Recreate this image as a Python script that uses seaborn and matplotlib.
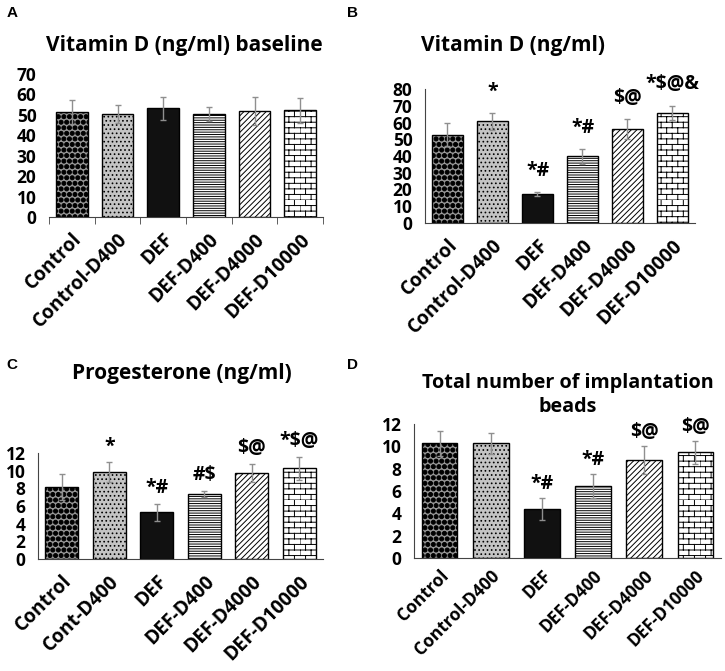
import numpy as np
import pandas as pd
import matplotlib
matplotlib.use('Agg')
import matplotlib.pyplot as plt
import matplotlib.hatch as mhatch
from matplotlib.path import Path
import seaborn as sns
import warnings

warnings.filterwarnings('ignore')

# --- DATA ---
GROUPS_A = ['Control', 'Control-D400', 'DEF', 'DEF-D400', 'DEF-D4000', 'DEF-D10000']
GROUPS_C = ['Control', 'Cont-D400', 'DEF', 'DEF-D400', 'DEF-D4000', 'DEF-D10000']

vitd_base_mean = [51.4, 50.4, 53.2, 50.4, 51.9, 52.2]
vitd_base_err = [5.9, 4.4, 5.7, 3.6, 7.0, 6.2]

vitd_mean = [52.7, 60.7, 17.3, 39.8, 56.3, 65.7]
vitd_err = [7.0, 5.0, 1.0, 4.4, 6.0, 4.4]
vitd_sig = ['', '*', '*#', '*#', '$@', '*$@&']

prog_mean = [8.15, 9.85, 5.28, 7.36, 9.74, 10.3]
prog_err = [1.5, 1.13, 0.95, 0.38, 1.06, 1.3]
prog_sig = ['', '*', '*#', '#$', '$@', '*$@']

beads_mean = [10.27, 10.27, 4.38, 6.46, 8.78, 9.46]
beads_err = [1.13, 0.95, 1.0, 1.07, 1.25, 1.04]
beads_sig = ['', '', '*#', '*#', '$@', '$@']


# --- extra hatch patterns: big dots ('c') and bricks ('b') ---
class BigDots(mhatch.Circles):
    size = 0.36
    filled = True

    def __init__(self, hatch, density):
        self.num_rows = hatch.count('c') * density
        super().__init__(hatch, density)


class Bricks(mhatch.HatchPatternBase):
    def __init__(self, hatch, density):
        self.num_rows = hatch.count('b') * density
        self.num_cols = self.num_rows // 2
        self.num_vertices = self.num_rows * (2 + 2 * self.num_cols)

    def set_vertices_and_codes(self, vertices, codes):
        verts = []
        for i in range(self.num_rows):
            y0 = i / self.num_rows
            y1 = (i + 1) / self.num_rows
            verts += [(0, y0), (1, y0)]
            shift = 0.5 / self.num_cols if i % 2 else 0.0
            for j in range(self.num_cols):
                x = j / self.num_cols + shift
                verts += [(x, y0), (x, y1)]
        vertices[:] = verts
        codes[0::2] = Path.MOVETO
        codes[1::2] = Path.LINETO


mhatch._hatch_types.append(BigDots)
mhatch._hatch_types.append(Bricks)

# bar look per group
FACES = ['#9a9a9a', '#c4c4c4', '#111111', '#ffffff', '#ffffff', '#ffffff']
HATCHES = ['ccc', '....', None, '-------', '//////', 'bbb']

plt.rcParams['hatch.linewidth'] = 0.7
plt.rcParams['font.family'] = ['Open Sans', 'DejaVu Sans']

fig = plt.figure(figsize=(7.25, 6.71), dpi=100)
W, H = 725, 671


def px_axes(l, t, r, b):
    return fig.add_axes([l / W, 1 - b / H, (r - l) / W, (b - t) / H])


def panel(ax, groups, means, errs, sigs, ymax, ystep, sig_off, left_spine=True,
          xticks=False, xsize=13.8, xpad=9):
    df = pd.DataFrame({'group': groups, 'value': means})
    sns.barplot(data=df, x='group', y='value', hue='group', palette=FACES,
                legend=False, width=0.7, ax=ax, edgecolor='black', linewidth=1.0,
                errorbar=None)
    for p, h in zip(ax.patches, HATCHES):
        if h:
            p.set_hatch(h)
    ax.errorbar(range(len(groups)), means, yerr=errs, fmt='none',
                ecolor='#8f8f8f', elinewidth=1.0, capsize=2.5, capthick=1.0)
    if sigs:
        for i, s in enumerate(sigs):
            if s:
                ax.annotate(s, (i, means[i] + errs[i]), xytext=(0, sig_off),
                            textcoords='offset points', ha='center', va='bottom',
                            fontsize=14, fontweight='bold', annotation_clip=False)
    yt = np.arange(0, ymax + 0.01, ystep)
    ax.set_ylim(0, ymax)
    ax.set_xlim(-0.5, len(groups) - 0.5)
    ax.set_yticks(yt)
    ax.set_yticklabels([f'{v:g}' for v in yt], fontsize=12.5, fontweight='bold')
    ax.set_xlabel('')
    ax.set_ylabel('')
    ax.tick_params(axis='y', length=0, pad=9)
    ax.set_xticks(range(len(groups)))
    ax.set_xticklabels(groups, rotation=45, ha='right', rotation_mode='anchor',
                       fontsize=xsize, fontweight='bold')
    ax.tick_params(axis='x', length=0, pad=xpad)
    if xticks:
        ax.set_xticks(np.arange(-0.5, len(groups)), minor=True)
        ax.tick_params(axis='x', which='minor', length=5, direction='out', color='#444444')
    ax.spines['top'].set_visible(False)
    ax.spines['right'].set_visible(False)
    ax.spines['left'].set_visible(left_spine)
    ax.spines['bottom'].set_color('#444444')
    ax.spines['left'].set_color('#444444')
    ax.set_facecolor('none')


axA = px_axes(49, 74, 323, 217)
panel(axA, GROUPS_A, vitd_base_mean, vitd_base_err, None, 70, 10, 0,
      left_spine=False, xticks=True)

axB = px_axes(425, 89, 695, 223)
panel(axB, GROUPS_A, vitd_mean, vitd_err, vitd_sig, 80, 10, 8)

axC = px_axes(38, 453, 323, 559)
panel(axC, GROUPS_C, prog_mean, prog_err, prog_sig, 12, 2, 4)

axD = px_axes(414, 424, 721, 558)
panel(axD, GROUPS_A, beads_mean, beads_err, beads_sig, 12, 2, 3,
      xsize=12.5, xpad=6)

# titles
title_kw = dict(fontweight='bold', ha='center', va='center')
fig.text(184 / W, 1 - 46 / H, 'Vitamin D (ng/ml) baseline', fontsize=15, **title_kw)
fig.text(513 / W, 1 - 46 / H, 'Vitamin D (ng/ml)', fontsize=15, **title_kw)
fig.text(182 / W, 1 - 373 / H, 'Progesterone (ng/ml)', fontsize=15, **title_kw)
fig.text(568 / W, 1 - 395 / H, 'Total number of implantation\nbeads', fontsize=14.2,
         linespacing=1.3, **title_kw)

# panel letters
let_kw = dict(fontsize=11, fontweight='bold', ha='center', va='center',
              family=['Liberation Sans', 'DejaVu Sans'])
fig.text(12 / W, 1 - 13 / H, 'A', **let_kw)
fig.text(353 / W, 1 - 13 / H, 'B', **let_kw)
fig.text(12 / W, 1 - 365 / H, 'C', **let_kw)
fig.text(353 / W, 1 - 365 / H, 'D', **let_kw)

fig.savefig('out.png', dpi=100, facecolor='white')
